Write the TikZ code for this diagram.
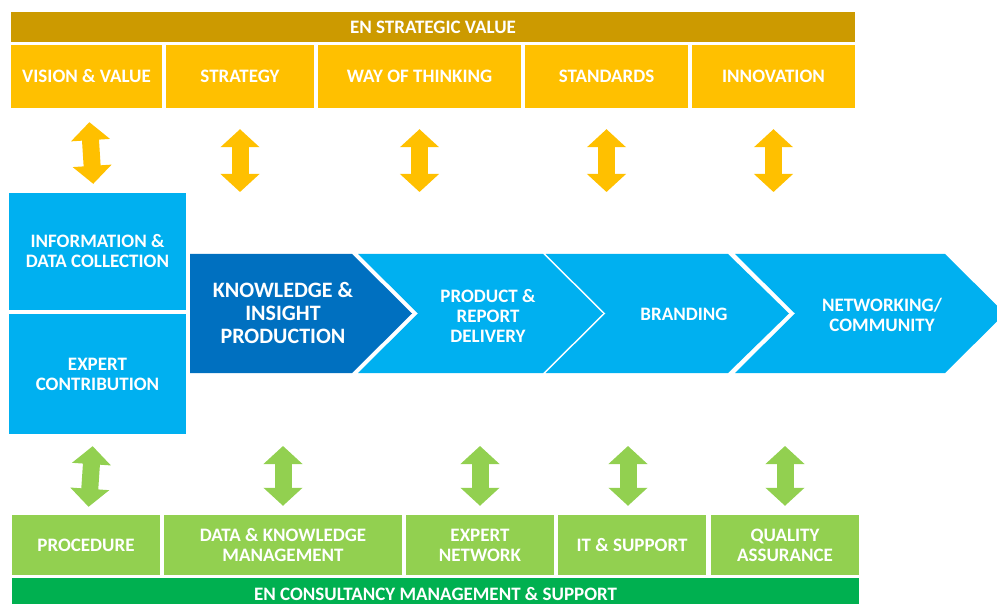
\documentclass[tikz,border=0pt]{standalone}
\usepackage{fontspec}
\setmainfont{Carlito}
\usepackage{xcolor}
\usepackage{tikz}
\usetikzlibrary{arrows.meta,positioning}
\definecolor{strategic}{HTML}{CC9A00}
\definecolor{valueyellow}{HTML}{FFC000}
\definecolor{processblue}{HTML}{00B0F0}
\definecolor{darkblue}{HTML}{0070C0}
\definecolor{supportgreen}{HTML}{92D050}
\definecolor{managegreen}{HTML}{00B050}
\tikzset{
	every node/.append style={
			text=white, align=center, inner sep=0pt,
			font=\bfseries\fontsize{19}{20}\selectfont,
		},
	valuebox/.style = {fill=valueyellow, minimum height=63pt},
	supportbox/.style = {fill=supportgreen, minimum height=60pt},
	inputbox/.style = {fill=processblue, minimum width=177pt},
	yarrow/.style = {
			draw=valueyellow, line width=17pt,
			{Triangle[width=38pt,length=18pt]}-{Triangle[width=38pt,length=18pt]},
		},
	garrow/.style = {
			draw=supportgreen, line width=17pt,
			{Triangle[width=38pt,length=18pt]}-{Triangle[width=38pt,length=18pt]},
		},
}

\begin{document}
\begin{tikzpicture}[x=1pt,y=-1pt]
			\useasboundingbox (0,0) rectangle (997,604);
			% Strategic value
			\node[fill=strategic, minimum width=844pt, minimum height=30pt] (Strategic value) at (433,27) {EN STRATEGIC VALUE};
			\node[valuebox, minimum width=151pt] (Vision value) at (86.5,76.5) {VISION \& VALUE};
			\node[valuebox, minimum width=148pt] (Strategy) at (240,76.5) {STRATEGY};
			\node[valuebox, minimum width=203pt] (Way of thinking) at (419.5,76.5) {WAY OF THINKING};
			\node[valuebox, minimum width=163pt] (Standards) at (606.5,76.5) {STANDARDS};
			\node[valuebox, minimum width=163pt] (Innovation) at (773.5,76.5) {INNOVATION};

			% Inputs
			\node[inputbox, minimum height=117pt] (Information) at (97.5,251.5) {INFORMATION \&\\DATA COLLECTION};
			\node[inputbox, minimum height=120pt] (Expert contribution) at (97.5,374) {EXPERT\\CONTRIBUTION};

			% Value chain
			\fill[darkblue] (190,254) -- (352,254) -- (412,313.5) -- (352,373) -- (190,373) -- cycle;
			\fill[processblue] (358,254) -- (543,254) -- (603,313.5) -- (543,373) -- (358,373) -- (418,313.5) -- cycle;
			\fill[processblue] (545.5,254) -- (728,254) -- (789,313.5) -- (728,373) -- (545.5,373) -- (605.5,313.5) -- cycle;
			\fill[processblue] (735,254) -- (945,254) -- (1005,313.5) -- (945,373) -- (735,373) -- (795,313.5) -- cycle;
			\node[font=\bfseries\fontsize{22}{23}\selectfont] (Knowledge) at (283,313) {KNOWLEDGE \&\\INSIGHT\\PRODUCTION};
			\node (Delivery) at (488,316) {PRODUCT \&\\REPORT\\DELIVERY};
			\node (Branding) at (684,314) {BRANDING};
			\node (Networking) at (882,315) {NETWORKING/\\COMMUNITY};

			% Consultancy management
			\node[supportbox, minimum width=148pt] (Procedure) at (86,545) {PROCEDURE};
			\node[supportbox, minimum width=238pt] (Data management) at (283,545) {DATA \& KNOWLEDGE\\MANAGEMENT};
			\node[supportbox, minimum width=148pt] (Expert network) at (480,545) {EXPERT\\NETWORK};
			\node[supportbox, minimum width=148pt] (IT support) at (632,545) {IT \& SUPPORT};
			\node[supportbox, minimum width=148pt] (Quality) at (785,545) {QUALITY\\ASSURANCE};
			\node[fill=managegreen, minimum width=847pt, minimum height=32pt] (Management) at (435.5,594) {EN CONSULTANCY MANAGEMENT \& SUPPORT};

			\coordinate (Joint2) at (240,192);
			\coordinate (Joint3) at (419.5,192);
			\coordinate (Joint4) at (606.5,192);
			\coordinate (Joint5) at (773.5,192);
			\coordinate (Joint7) at (283,446);
			\coordinate (Joint8) at (480,446);
			\coordinate (Joint9) at (628,446);
			\coordinate (Joint10) at (785,446);

			\draw[yarrow, shorten <=14pt, shorten >=9pt] (Vision value) to (Information);
			\draw[yarrow, shorten <=21pt] (Strategy) to (Joint2);
			\draw[yarrow, shorten <=21pt] (Way of thinking) to (Joint3);
			\draw[yarrow, shorten <=21pt] (Standards) to (Joint4);
			\draw[yarrow, shorten <=21pt] (Innovation) to (Joint5);
			\draw[garrow, shorten <=12pt, shorten >=8pt] (Expert contribution) to (Procedure);
			\draw[garrow, shorten >=9pt] (Joint7) to (Data management);
			\draw[garrow, shorten >=9pt] (Joint8) to (Expert network);
			\draw[garrow, shorten >=9pt] (Joint9) to (Joint9 |- IT support.north);
			\draw[garrow, shorten >=9pt] (Joint10) to (Quality);
		\end{tikzpicture}
\end{document}
